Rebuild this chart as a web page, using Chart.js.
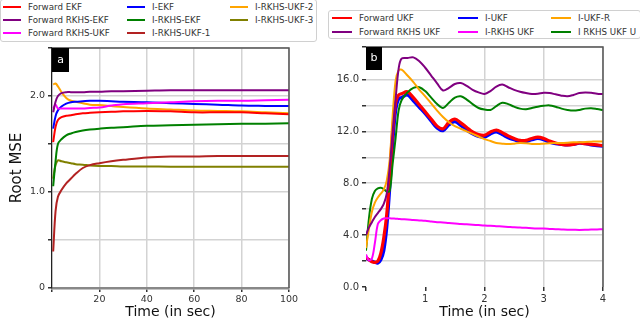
<!DOCTYPE html>
<html>
<head>
<meta charset="utf-8">
<script src="https://cdn.jsdelivr.net/npm/chart.js@4.4.0/dist/chart.umd.min.js"></script>
<style>
  body { margin: 0; background: #fff; width: 640px; height: 323px; position: relative; overflow: hidden; font-family: "DejaVu Sans", sans-serif; }
  .panel { position: absolute; top: 0; width: 320px; height: 323px; }
  .legend { position: absolute; box-sizing: border-box; border: 1px solid #d0d0d0; border-radius: 3px; background: #fff; display: grid; grid-auto-flow: column; color: #333; font-size: 8.7px; }
  .legend .item { display: flex; align-items: center; white-space: nowrap; }
  .legend .swatch { display: inline-block; height: 2px; margin-right: 7px; }
  #legendA { left: 0; top: -1px; width: 317px; height: 43px; grid-template-rows: repeat(3, 13.3px); grid-template-columns: 124px 103px auto; padding-left: 2px; }
  #legendA .swatch { width: 18px; }
  #legendB { left: 328px; top: 10px; width: 313px; height: 29px; grid-template-rows: repeat(2, 14px); grid-template-columns: 126px 93px auto; padding-left: 3px; }
  #legendB .swatch { width: 20px; }
</style>
</head>
<body>
<div class="panel" style="left:0"><canvas id="chartA" width="320" height="323"></canvas></div>
<div class="panel" style="left:320px"><canvas id="chartB" width="320" height="323"></canvas></div>
<div class="legend" id="legendA"></div>
<div class="legend" id="legendB"></div>
<script>
// ---- panel (a): time in sec, root MSE ----
var leftTime     = [0.5, 1.5, 2.5, 4, 6, 8, 10, 13, 16, 20, 25, 30, 40, 50, 60, 70, 80, 90, 100]
var fwdEkf       = [1.52, 1.68, 1.75, 1.78, 1.795, 1.80, 1.81, 1.82, 1.825, 1.83, 1.835, 1.84, 1.845, 1.84, 1.83, 1.83, 1.83, 1.82, 1.81]
var fwdRkhsEkf   = [1.83, 1.94, 2.00, 2.03, 2.04, 2.04, 2.04, 2.04, 2.045, 2.045, 2.05, 2.05, 2.055, 2.06, 2.06, 2.06, 2.06, 2.06, 2.06]
var fwdRkhsUkf   = [1.87, 1.91, 1.87, 1.87, 1.87, 1.87, 1.87, 1.87, 1.875, 1.88, 1.90, 1.915, 1.925, 1.935, 1.945, 1.95, 1.95, 1.955, 1.96]
var iEkf         = [1.66, 1.79, 1.85, 1.89, 1.92, 1.935, 1.94, 1.945, 1.95, 1.95, 1.945, 1.94, 1.935, 1.925, 1.917, 1.91, 1.90, 1.897, 1.895]
var iRkhsEkf     = [1.06, 1.32, 1.50, 1.55, 1.59, 1.61, 1.625, 1.64, 1.65, 1.66, 1.67, 1.675, 1.69, 1.695, 1.70, 1.705, 1.71, 1.712, 1.715]
var iRkhsUkf1    = [0.38, 0.80, 0.95, 1.02, 1.09, 1.14, 1.19, 1.25, 1.28, 1.30, 1.32, 1.335, 1.36, 1.37, 1.37, 1.375, 1.375, 1.375, 1.375]
var iRkhsUkf2    = [2.12, 2.13, 2.10, 2.04, 1.98, 1.95, 1.94, 1.925, 1.91, 1.905, 1.895, 1.885, 1.87, 1.86, 1.85, 1.845, 1.84, 1.83, 1.82]
var iRkhsUkf3    = [1.14, 1.28, 1.33, 1.32, 1.31, 1.30, 1.29, 1.285, 1.275, 1.27, 1.27, 1.265, 1.265, 1.264, 1.264, 1.264, 1.264, 1.264, 1.264]
var leftXTicks   = [20, 40, 60, 80, 100]
var leftYTicks   = [0, 1.0, 2.0]

// ---- panel (b) ----
var rightTime    = [0, 0.05, 0.1, 0.15, 0.2, 0.25, 0.3, 0.35, 0.4, 0.45, 0.5, 0.55, 0.6, 0.7, 0.8, 0.9, 1.0, 1.1, 1.2, 1.3, 1.4, 1.5, 1.6, 1.7, 1.8, 1.9, 2.0, 2.1, 2.2, 2.3, 2.4, 2.5, 2.6, 2.7, 2.8, 2.9, 3.0, 3.1, 3.2, 3.3, 3.4, 3.5, 3.6, 3.7, 3.8, 3.9, 4.0]
var fwdUkf       = [2.3, 2.1, 1.95, 1.9, 2.0, 2.6, 3.8, 5.6, 8.6, 12.0, 14.2, 14.8, 14.9, 15.05, 14.6, 14.05, 13.5, 12.95, 12.4, 12.2, 12.7, 12.95, 12.65, 12.3, 11.95, 11.75, 11.7, 11.95, 12.1, 11.9, 11.65, 11.45, 11.3, 11.3, 11.45, 11.55, 11.45, 11.25, 11.1, 11.0, 10.95, 11.0, 11.1, 11.05, 11.0, 10.95, 10.9]
var fwdRkhsUkfB  = [4.0, 4.6, 5.0, 5.4, 5.7, 6.0, 6.4, 7.2, 9.2, 12.0, 14.5, 16.8, 17.6, 17.65, 17.7, 17.4, 16.9, 16.3, 15.7, 15.15, 15.35, 15.65, 15.72, 15.5, 15.2, 15.0, 14.88, 15.1, 15.45, 15.6, 15.4, 15.2, 15.05, 14.95, 14.88, 14.9, 14.97, 14.95, 14.85, 14.75, 14.7, 14.8, 14.95, 15.0, 14.97, 14.9, 14.87]
var iUkf         = [2.2, 2.1, 2.0, 1.9, 1.85, 2.1, 2.8, 4.6, 7.6, 11.0, 13.6, 14.5, 14.6, 14.8, 14.35, 13.85, 13.35, 12.8, 12.25, 12.05, 12.5, 12.75, 12.45, 12.1, 11.8, 11.6, 11.55, 11.8, 11.95, 11.75, 11.5, 11.35, 11.2, 11.2, 11.35, 11.45, 11.35, 11.15, 11.05, 11.0, 10.95, 11.0, 11.08, 11.05, 10.95, 10.9, 10.85]
var iRkhsUkfB    = [2.5, 2.05, 2.2, 3.4, 4.85, 5.15, 5.28, 5.3, 5.3, 5.28, 5.27, 5.25, 5.23, 5.2, 5.16, 5.13, 5.1, 5.05, 5.0, 4.97, 4.93, 4.9, 4.86, 4.83, 4.8, 4.77, 4.74, 4.72, 4.69, 4.66, 4.63, 4.6, 4.58, 4.56, 4.53, 4.51, 4.5, 4.48, 4.46, 4.44, 4.42, 4.41, 4.4, 4.41, 4.43, 4.44, 4.45]
var iUkfR        = [3.0, 4.5, 5.8, 6.5, 6.9, 7.2, 7.5, 8.2, 9.8, 13.2, 15.9, 16.7, 16.75, 16.3, 15.8, 15.2, 14.7, 14.15, 13.6, 13.1, 12.7, 12.4, 12.2, 12.0, 11.8, 11.6, 11.4, 11.25, 11.1, 11.05, 11.02, 11.05, 11.1, 11.08, 11.03, 11.02, 11.05, 11.08, 11.1, 11.1, 11.12, 11.15, 11.15, 11.18, 11.2, 11.22, 11.22]
var iRkhsUkfU    = [2.8, 5.3, 6.8, 7.4, 7.6, 7.65, 7.55, 7.35, 7.4, 9.5, 11.5, 13.6, 14.4, 15.0, 15.35, 15.4, 15.1, 14.6, 14.1, 13.8, 14.2, 14.6, 14.7, 14.45, 14.1, 13.8, 13.68, 13.65, 13.95, 14.2, 14.1, 13.9, 13.75, 13.7, 13.8, 13.9, 13.97, 14.0, 13.9, 13.75, 13.65, 13.6, 13.65, 13.75, 13.78, 13.72, 13.64]
var rightXTicks  = [1, 2, 3, 4]
var rightYTicks  = [0, 4, 8, 12, 16]

function pts(xs, ys) {
  return xs.map(function (x, i) { return { x: x, y: ys[i] } })
}

function line(label, xs, ys, color, width) {
  return {
    label: label,
    data: pts(xs, ys),
    borderColor: color,
    backgroundColor: color,
    borderWidth: width || 2,
    pointRadius: 0,
    tension: 0.35,
    fill: false
  }
}

// top/right frame and the black panel letter
var framePlugin = {
  id: 'frame',
  afterDraw: function (chart, args, opts) {
    var ctx = chart.ctx, a = chart.chartArea
    ctx.save()
    ctx.strokeStyle = opts.color
    ctx.lineWidth = opts.width
    ctx.beginPath()
    ctx.moveTo(a.left, a.top)
    ctx.lineTo(a.right, a.top)
    ctx.lineTo(a.right, a.bottom)
    ctx.stroke()
    ctx.fillStyle = '#000'
    ctx.fillRect(a.left, a.top, opts.boxW, opts.boxH)
    ctx.fillStyle = '#fff'
    ctx.font = '11px "DejaVu Sans"'
    ctx.textAlign = 'center'
    ctx.textBaseline = 'middle'
    ctx.fillText(opts.letter, a.left + opts.boxW / 2, a.top + opts.boxH / 2)
    ctx.restore()
  }
}

var gridGray = '#d3d3d3'
var tickFontA = { family: 'DejaVu Sans', size: 9.5 }
var tickFontB = { family: 'DejaVu Sans', size: 10 }

var setsA = [
  line('Forward EKF', leftTime, fwdEkf, '#ff0000'),
  line('Forward RKHS-EKF', leftTime, fwdRkhsEkf, '#800080'),
  line('Forward RKHS-UKF', leftTime, fwdRkhsUkf, '#ff00ff'),
  line('I-EKF', leftTime, iEkf, '#0000ff'),
  line('I-RKHS-EKF', leftTime, iRkhsEkf, '#008000'),
  line('I-RKHS-UKF-1', leftTime, iRkhsUkf1, '#b22222'),
  line('I-RKHS-UKF-2', leftTime, iRkhsUkf2, '#ffa500'),
  line('I-RKHS-UKF-3', leftTime, iRkhsUkf3, '#808000')
]

new Chart(document.getElementById('chartA'), {
  type: 'line',
  data: { datasets: setsA },
  plugins: [framePlugin],
  options: {
    responsive: false,
    animation: false,
    layout: { padding: { top: 48, right: 31, left: 0, bottom: 0 } },
    plugins: {
      legend: { display: false },
      tooltip: { enabled: false },
      frame: { color: '#555', width: 1.5, letter: 'a', boxW: 17, boxH: 24 }
    },
    scales: {
      x: {
        type: 'linear', min: 0, max: 100,
        afterFit: function (s) { s.height = 35 },
        afterBuildTicks: function (s) { s.ticks = [0].concat(leftXTicks).map(function (v) { return { value: v } }) },
        ticks: { font: tickFontA, color: '#333', padding: 2, maxRotation: 0,
          callback: function (v) { return leftXTicks.indexOf(v) >= 0 ? String(v) : '' } },
        grid: { color: gridGray, lineWidth: 1.5, tickLength: 4, tickColor: '#333' },
        border: { color: '#888', width: 2.5 },
        title: { display: true, text: 'Time (in sec)', color: '#111', font: { family: 'DejaVu Sans', size: 14 }, padding: { top: 0, bottom: 2 } }
      },
      y: {
        min: 0, max: 2.5,
        afterFit: function (s) { s.width = 52 },
        ticks: { stepSize: 0.5, font: tickFontA, color: '#333', padding: 3,
          callback: function (v) {
            if (leftYTicks.indexOf(v) < 0) return ''
            return v === 0 ? '0' : v.toFixed(1)
          } },
        grid: { color: gridGray, lineWidth: 1.5, tickLength: 4, tickColor: '#333' },
        border: { color: '#222', width: 1.2 },
        title: { display: true, text: 'Root MSE', color: '#111', font: { family: 'DejaVu Sans', size: 15 }, padding: { top: 8, bottom: 0 } }
      }
    }
  }
})

var setsB = [
  line('Forward UKF', rightTime, fwdUkf, '#ff0000', 3.2),
  line('Forward RKHS UKF', rightTime, fwdRkhsUkfB, '#800080'),
  line('I-UKF', rightTime, iUkf, '#0000ff', 3.2),
  line('I-RKHS UKF', rightTime, iRkhsUkfB, '#ff00ff'),
  line('I-UKF-R', rightTime, iUkfR, '#ffa500'),
  line('I RKHS UKF U', rightTime, iRkhsUkfU, '#008000')
]
// drawing order: blue under red, as in the picture
setsB[0].order = 1
setsB[2].order = 2

new Chart(document.getElementById('chartB'), {
  type: 'line',
  data: { datasets: setsB },
  plugins: [framePlugin],
  options: {
    responsive: false,
    animation: false,
    layout: { padding: { top: 47, right: 37, left: 0, bottom: 0 } },
    plugins: {
      legend: { display: false },
      tooltip: { enabled: false },
      frame: { color: '#555', width: 1.5, letter: 'b', boxW: 16, boxH: 23 }
    },
    scales: {
      x: {
        type: 'linear', min: 0, max: 4,
        afterFit: function (s) { s.height = 36 },
        ticks: { stepSize: 1, font: tickFontB, color: '#333', padding: 2, maxRotation: 0,
          callback: function (v) { return rightXTicks.indexOf(v) >= 0 ? String(v) : '' } },
        grid: { lineWidth: 1.5, tickLength: 4, tickColor: '#333',
          color: function (c) { return (c.tick && (c.tick.value === 0 || c.tick.value === 1)) ? 'rgba(0,0,0,0)' : gridGray } },
        border: { display: false },
        title: { display: true, text: 'Time (in sec)', color: '#111', font: { family: 'DejaVu Sans', size: 14 }, padding: { top: 0, bottom: 2 } }
      },
      y: {
        min: 0, max: 18.5,
        afterFit: function (s) { s.width = 46 },
        ticks: { stepSize: 2, font: tickFontB, color: '#333', padding: 3,
          callback: function (v) { return rightYTicks.indexOf(v) >= 0 ? v.toFixed(1) : '' } },
        grid: { lineWidth: 1.5, tickLength: 4, tickColor: '#333',
          color: function (c) { return (c.tick && c.tick.value === 0) ? 'rgba(0,0,0,0)' : gridGray } },
        border: { display: false }
      }
    }
  }
})

// legends (column-major like the picture)
function buildLegend(id, sets) {
  var el = document.getElementById(id)
  sets.forEach(function (ds) {
    var item = document.createElement('div')
    item.className = 'item'
    var sw = document.createElement('span')
    sw.className = 'swatch'
    sw.style.background = ds.borderColor
    item.appendChild(sw)
    item.appendChild(document.createTextNode(ds.label))
    el.appendChild(item)
  })
}
buildLegend('legendA', setsA)
buildLegend('legendB', setsB)
</script>
</body>
</html>
